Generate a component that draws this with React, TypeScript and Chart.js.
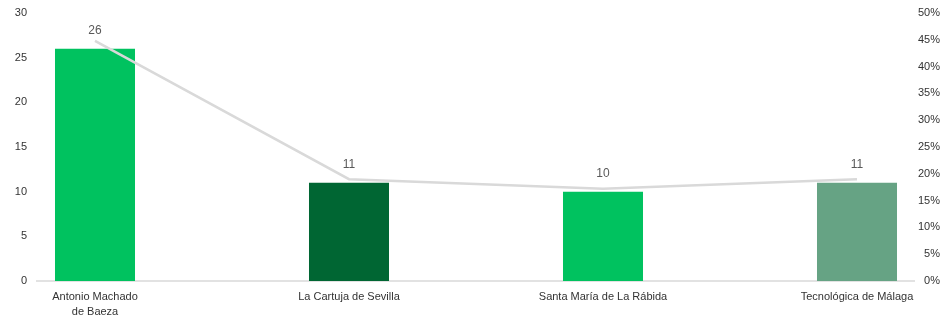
import React, { useEffect, useRef } from "react";
import { Chart, registerables } from "chart.js";

Chart.register(...registerables);

const categories: (string | string[])[] = [
  ["Antonio Machado", "de Baeza"],
  "La Cartuja de Sevilla",
  "Santa María de La Rábida",
  "Tecnológica de Málaga",
];
const counts = [26, 11, 10, 11];
const shares = [0.448, 0.19, 0.172, 0.19];
const barColors = ["#00C25F", "#006633", "#00C25F", "#66A384"];
const leftTicks = [0, 5, 10, 15, 20, 25, 30];
const rightTicks = [0, 0.05, 0.1, 0.15, 0.2, 0.25, 0.3, 0.35, 0.4, 0.45, 0.5];

const TICK_FONT = { family: "'Liberation Sans Narrow', 'Arial Narrow', 'Liberation Sans', Arial, sans-serif", size: 11, lineHeight: 1.35 };

const baselinePlugin = {
  id: "baseline",
  beforeDatasetsDraw(chart: any) {
    const { ctx, chartArea } = chart;
    ctx.save();
    ctx.strokeStyle = "#D9D9D9";
    ctx.lineWidth = 1.5;
    ctx.beginPath();
    ctx.moveTo(36, chartArea.bottom);
    ctx.lineTo(915, chartArea.bottom);
    ctx.stroke();
    ctx.restore();
  },
};

const labelPlugin = {
  id: "barLabels",
  afterDatasetsDraw(chart: any) {
    const { ctx } = chart;
    const meta = chart.getDatasetMeta(1);
    ctx.save();
    ctx.fillStyle = "#595959";
    ctx.font = "12px 'Liberation Sans', sans-serif";
    ctx.textAlign = "center";
    ctx.textBaseline = "middle";
    meta.data.forEach((bar: any, i: number) => {
      ctx.fillText(String(counts[i]), bar.x, bar.y - 18);
    });
    ctx.restore();
  },
};

export default function App() {
  const ref = useRef<HTMLCanvasElement>(null);
  useEffect(() => {
    if (!ref.current) return;
    const chart = new Chart(ref.current, {
      type: "bar",
      data: {
        labels: categories,
        datasets: [
          {
            type: "line",
            data: shares,
            yAxisID: "y1",
            borderColor: "#D9D9D9",
            borderWidth: 2.5,
            pointRadius: 0,
            tension: 0,
            order: 0,
          } as any,
          {
            type: "bar",
            data: counts,
            yAxisID: "y",
            backgroundColor: barColors,
            barPercentage: 0.315,
            categoryPercentage: 1,
            clip: false,
            order: 1,
          } as any,
        ],
      },
      options: {
        animation: false,
        responsive: true,
        maintainAspectRatio: false,
        layout: { padding: { top: 13, right: 2, left: 0, bottom: 0 } },
        plugins: { legend: { display: false }, tooltip: { enabled: false } },
        scales: {
          x: {
            offset: false,
            grid: { display: false, drawTicks: false },
            border: { display: false },
            ticks: { color: "#333333", font: TICK_FONT, padding: 9, maxRotation: 0, autoSkip: false },
            afterFit: (s: any) => { s.height = 38; },
          },
          y: {
            position: "left",
            min: 0,
            max: 30,
            afterBuildTicks: (s: any) => { s.ticks = leftTicks.map((v) => ({ value: v })); },
            grid: { display: false, drawTicks: false },
            border: { display: false },
            ticks: { color: "#333333", font: TICK_FONT, padding: 68 },
            afterFit: (s: any) => { s.width = 95; s.paddingTop = 7; s.paddingBottom = 7; },
          },
          y1: {
            position: "right",
            min: 0,
            max: 0.5,
            afterBuildTicks: (s: any) => { s.ticks = rightTicks.map((v) => ({ value: v })); },
            grid: { display: false, drawTicks: false },
            border: { display: false },
            ticks: {
              color: "#333333",
              font: TICK_FONT,
              crossAlign: "far",
              callback: (v: any) => Math.round(Number(v) * 100) + "%",
            },
            afterFit: (s: any) => { s.width = 83; s.paddingTop = 7; s.paddingBottom = 7; },
          },
        },
      },
      plugins: [baselinePlugin, labelPlugin],
    });
    return () => chart.destroy();
  }, []);
  return (
    <div style={{ position: "absolute", left: 0, top: 0, width: 942, height: 319 }}>
      <canvas ref={ref} />
    </div>
  );
}
